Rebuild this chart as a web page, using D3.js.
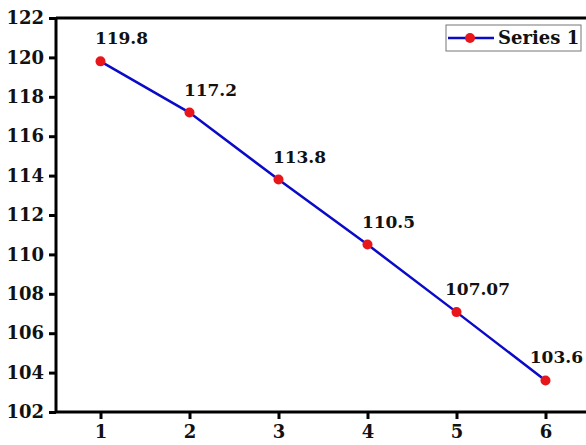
<!DOCTYPE html>
<html><head><meta charset="utf-8">
<script src="https://cdn.jsdelivr.net/npm/d3@7"></script>
<style>body{margin:0;background:#fff;} svg{display:block;}</style>
</head><body>
<svg id="c" width="586" height="445"></svg>
<script>
const xValues = [1, 2, 3, 4, 5, 6];
const yValues = [119.8, 117.2, 113.8, 110.5, 107.07, 103.6];
const labels = ["119.8", "117.2", "113.8", "110.5", "107.07", "103.6"];
const yTicks = [102, 104, 106, 108, 110, 112, 114, 116, 118, 120, 122];
const xTicks = [1, 2, 3, 4, 5, 6];
const seriesName = "Series 1";

const svg = d3.select("#c");
const font = "'DejaVu Serif', serif";
const L = 56, T = 18, B = 412, W = 586;
const x = d3.scaleLinear().domain([0.5, 6.5]).range([L, L + 6 * 89]);
const y = d3.scaleLinear().domain([102, 122]).range([B, T]);

const gx = svg.append("g").attr("transform", `translate(0,${B})`)
  .call(d3.axisBottom(x).tickValues(xTicks).tickSize(7).tickPadding(6).tickFormat(d3.format("d")));
const gy = svg.append("g").attr("transform", `translate(${L},0)`)
  .call(d3.axisLeft(y).tickValues(yTicks).tickSize(7).tickPadding(5).tickFormat(d3.format("d")));
[gx, gy].forEach(g => {
  g.select(".domain").attr("stroke", "#000").attr("stroke-width", 3);
  g.selectAll(".tick line").attr("stroke", "#000").attr("stroke-width", 3);
  g.selectAll(".tick text").attr("fill", "#111").attr("font-family", font)
    .attr("font-weight", "bold").attr("font-size", 18);
});
gy.select(".domain").attr("d", `M0,${B}V${T}`);
gx.select(".domain").attr("d", `M${L},0H${x(6.5)}`);
svg.append("line").attr("x1", L).attr("x2", x(6.5)).attr("y1", y(122)).attr("y2", y(122))
  .attr("stroke", "#000").attr("stroke-width", 3);

const pts = xValues.map((v, i) => [v, yValues[i]]);
svg.append("path").datum(pts)
  .attr("d", d3.line().x(d => x(d[0])).y(d => y(d[1])))
  .attr("fill", "none").attr("stroke", "#0a0ac8").attr("stroke-width", 2.5);
svg.selectAll("circle.pt").data(pts).join("circle")
  .attr("cx", d => x(d[0])).attr("cy", d => y(d[1])).attr("r", 5)
  .attr("fill", "#e8161b");
svg.selectAll("text.lbl").data(pts).join("text")
  .attr("x", d => x(d[0]) + 21).attr("y", d => y(d[1]) - 17)
  .attr("text-anchor", "middle").attr("font-family", font).attr("font-weight", "bold")
  .attr("font-size", 17).attr("fill", "#111").text((d, i) => labels[i])
  .each(function () {
    const b = this.getBBox();
    const over = b.x + b.width - (W - 3);
    if (over > 0) d3.select(this).attr("x", +d3.select(this).attr("x") - over);
  });

const lg = svg.append("g");
lg.append("rect").attr("x", 446).attr("y", 25).attr("width", 135).attr("height", 26)
  .attr("fill", "#fff").attr("stroke", "#777").attr("stroke-width", 1);
lg.append("line").attr("x1", 448).attr("x2", 494).attr("y1", 38).attr("y2", 38)
  .attr("stroke", "#0a0ac8").attr("stroke-width", 2.5);
lg.append("circle").attr("cx", 470).attr("cy", 38).attr("r", 5).attr("fill", "#e8161b");
lg.append("text").attr("x", 498).attr("y", 44).attr("font-family", font).attr("font-weight", "bold")
  .attr("font-size", 18).attr("fill", "#111").text(seriesName);
</script>
</body></html>
